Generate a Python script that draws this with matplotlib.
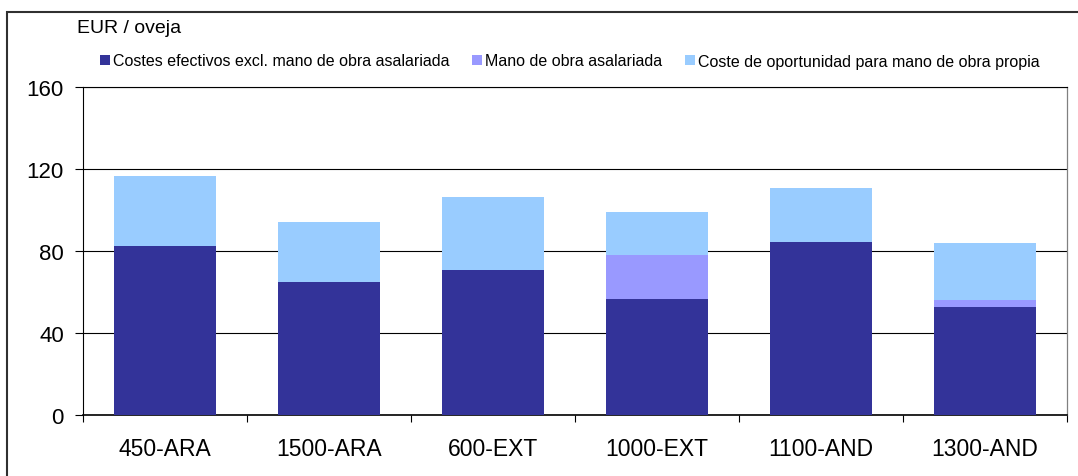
import matplotlib.pyplot as plt
import matplotlib.patches as mpatches
import numpy as np

plt.rcParams['font.family'] = ['Liberation Sans', 'DejaVu Sans']

categories = ['450-ARA', '1500-ARA', '600-EXT', '1000-EXT', '1100-AND', '1300-AND']
costes_efectivos = [82.6, 65.0, 70.8, 56.7, 84.6, 52.8]
mano_asalariada = [0.0, 0.0, 0.0, 21.6, 0.0, 3.5]
coste_oportunidad = [34.2, 29.3, 35.7, 21.0, 26.4, 27.8]
series_labels = ['Costes efectivos excl. mano de obra asalariada',
                 'Mano de obra asalariada',
                 'Coste de oportunidad para mano de obra propia']
colors = ['#333399', '#9999FF', '#99CCFF']
yticks = [0, 40, 80, 120, 160]

W, H = 1078, 477
fig = plt.figure(figsize=[W / 100, H / 100], dpi=100)
ax = fig.add_axes([83.3 / W, 1 - 416 / H, 983.4 / W, (416 - 88.3) / H])

x = np.arange(len(categories))
width = 0.625
b1 = np.array(costes_efectivos)
b2 = b1 + np.array(mano_asalariada)
ax.bar(x, costes_efectivos, width=width, color=colors[0], zorder=3, label=series_labels[0])
ax.bar(x, mano_asalariada, width=width, bottom=b1, color=colors[1], zorder=3, label=series_labels[1])
ax.bar(x, coste_oportunidad, width=width, bottom=b2, color=colors[2], zorder=3, label=series_labels[2])

ax.set_xlim(-0.5, len(categories) - 0.5)
ax.set_ylim(0, 160)
ax.set_yticks(yticks)
ax.grid(axis='y', color='black', lw=0.8, zorder=1)
ax.tick_params(axis='y', length=6, width=0.8, pad=8, labelsize=16, direction='out')

ax.set_xticks(x)
ax.set_xticklabels(categories)
ax.set_xticks(np.arange(-0.5, len(categories)), minor=True)
ax.tick_params(axis='x', which='major', length=0, pad=16, labelsize=16.5)
ax.tick_params(axis='x', which='minor', length=5, width=0.8, direction='out')

for s in ['left', 'top']:
    ax.spines[s].set_color('black')
    ax.spines[s].set_linewidth(0.8)
ax.spines['bottom'].set_color('black')
ax.spines['bottom'].set_linewidth(1.2)
ax.spines['right'].set_color('#808080')
ax.spines['right'].set_linewidth(0.9)

# outer chart frame (cut off at right / bottom)
frame = mpatches.Rectangle((7.3 / W, -0.2), 1.2, 1.2 - 13.3 / H, transform=fig.transFigure,
                           fill=False, edgecolor='#303030', lw=1.5, clip_on=False)
fig.patches.append(frame)

fig.text(77.3 / W, 1 - 33.3 / H, 'EUR / oveja', fontsize=14, va='baseline', ha='left')

handles, labels = ax.get_legend_handles_labels()
fig.legend(handles, labels, loc='center left', bbox_to_anchor=(100 / W, 1 - 62 / H),
           ncol=3, frameon=False, fontsize=11.5, handlelength=0.625, handleheight=0.625,
           handletextpad=0.2, columnspacing=1.4, borderpad=0, borderaxespad=0)

plt.savefig('out.png', dpi=100)
